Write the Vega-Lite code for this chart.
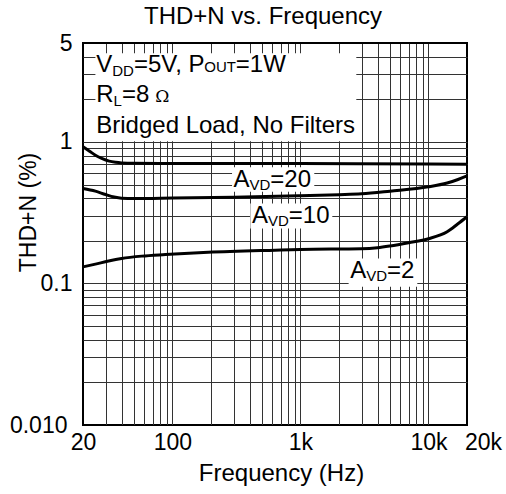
{
  "$schema": "https://vega.github.io/schema/vega-lite/v6.json",
  "width": 384,
  "height": 382,
  "autosize": {"type": "none"},
  "padding": {"left": 83, "top": 43, "right": 39, "bottom": 69},
  "background": "white",
  "config": {
    "font": "Liberation Sans",
    "view": {"stroke": "black", "strokeWidth": 2}
  },
  "title": {
    "text": "THD+N vs. Frequency",
    "font": "Liberation Sans",
    "fontSize": 24,
    "fontWeight": "normal",
    "color": "black",
    "anchor": "middle",
    "frame": "group",
    "dx": -12,
    "offset": 3
  },
  "encoding": {
    "x": {
      "field": "f",
      "type": "quantitative",
      "scale": {"type": "log", "domain": [20, 20000], "nice": false},
      "axis": {
        "title": "Frequency (Hz)",
        "titleFont": "Liberation Sans",
        "titleFontSize": 24,
        "titleFontWeight": "normal",
        "titleColor": "black",
        "titleX": 198,
        "titleY": 55,
        "titleBaseline": "alphabetic",
        "titleAlign": "center",
        "values": [20, 30, 40, 50, 60, 70, 80, 90, 100, 200, 300, 400, 500, 600, 700, 800, 900, 1000, 2000, 3000, 4000, 5000, 6000, 7000, 8000, 9000, 10000, 20000],
        "labelExpr": "datum.value == 20 ? '20' : datum.value == 100 ? '100' : datum.value == 1000 ? '1k' : datum.value == 10000 ? '10k' : datum.value == 20000 ? '20k' : ''",
        "labelFont": "Liberation Sans",
        "labelFontSize": 23,
        "labelColor": "black",
        "labelOverlap": false,
        "labelFlush": false,
        "labelPadding": 6,
        "labelOffset": {"condition": {"test": "datum.value == 20000", "value": 16}, "value": 0},
        "ticks": false,
        "tickSize": 0,
        "domain": false,
        "grid": true,
        "gridColor": {"condition": {"test": "datum.value == 20 || datum.value == 20000", "value": "black"}, "value": "#333333"},
        "gridWidth": 1,
        "gridOpacity": 1
      }
    },
    "y": {
      "field": "t",
      "type": "quantitative",
      "scale": {"type": "log", "domain": [0.01, 5], "nice": false},
      "axis": {
        "title": "THD+N (%)",
        "titleFont": "Liberation Sans",
        "titleFontSize": 23,
        "titleFontWeight": "normal",
        "titleColor": "black",
        "titleAngle": 270,
        "titleX": -48,
        "titleY": 169,
        "titleBaseline": "alphabetic",
        "titleAlign": "center",
        "values": [0.01, 0.02, 0.03, 0.04, 0.05, 0.06, 0.07, 0.08, 0.09, 0.1, 0.2, 0.3, 0.4, 0.5, 0.6, 0.7, 0.8, 0.9, 1, 2, 3, 4, 5],
        "labelExpr": "datum.value == 0.01 ? '0.010' : datum.value == 0.1 ? '0.1' : datum.value == 1 ? '1' : datum.value == 5 ? '5' : ''",
        "labelFont": "Liberation Sans",
        "labelFontSize": 23,
        "labelColor": "black",
        "labelOverlap": false,
        "labelFlush": false,
        "labelPadding": {"condition": {"test": "datum.value == 0.01", "value": 16}, "value": 11},
        "ticks": false,
        "tickSize": 0,
        "domain": false,
        "grid": true,
        "gridColor": {"condition": {"test": "datum.value == 0.01 || datum.value == 5", "value": "black"}, "value": "#333333"},
        "gridWidth": 1,
        "gridOpacity": 1
      }
    }
  },
  "layer": [
    {
      "data": {"values": [
        {"f": 25, "f2": 2730, "t": 1.011, "t2": 4.23},
        {"f": 292, "f2": 1282, "t": 0.444, "t2": 0.663},
        {"f": 405.6, "f2": 1773, "t": 0.245, "t2": 0.368},
        {"f": 2378, "f2": 8180, "t": 0.0948, "t2": 0.1504}
      ]},
      "mark": {"type": "rect", "fill": "white", "stroke": null},
      "encoding": {
        "x2": {"field": "f2"},
        "y2": {"field": "t2"}
      }
    },
    {
      "data": {"values": [
        {"series": "AVD=20", "f": 20, "t": 0.925},
        {"series": "AVD=20", "f": 22.5, "t": 0.86},
        {"series": "AVD=20", "f": 25, "t": 0.805},
        {"series": "AVD=20", "f": 28, "t": 0.765},
        {"series": "AVD=20", "f": 32, "t": 0.732},
        {"series": "AVD=20", "f": 36, "t": 0.718},
        {"series": "AVD=20", "f": 40, "t": 0.711},
        {"series": "AVD=20", "f": 50, "t": 0.706},
        {"series": "AVD=20", "f": 100, "t": 0.705},
        {"series": "AVD=20", "f": 1000, "t": 0.703},
        {"series": "AVD=20", "f": 10000, "t": 0.698},
        {"series": "AVD=20", "f": 20000, "t": 0.696},
        {"series": "AVD=10", "f": 20, "t": 0.469},
        {"series": "AVD=10", "f": 25, "t": 0.449},
        {"series": "AVD=10", "f": 30, "t": 0.425},
        {"series": "AVD=10", "f": 35, "t": 0.408},
        {"series": "AVD=10", "f": 40, "t": 0.4},
        {"series": "AVD=10", "f": 50, "t": 0.398},
        {"series": "AVD=10", "f": 100, "t": 0.401},
        {"series": "AVD=10", "f": 300, "t": 0.407},
        {"series": "AVD=10", "f": 1000, "t": 0.417},
        {"series": "AVD=10", "f": 2000, "t": 0.424},
        {"series": "AVD=10", "f": 3000, "t": 0.43},
        {"series": "AVD=10", "f": 5000, "t": 0.449},
        {"series": "AVD=10", "f": 10000, "t": 0.482},
        {"series": "AVD=10", "f": 14000, "t": 0.513},
        {"series": "AVD=10", "f": 17000, "t": 0.543},
        {"series": "AVD=10", "f": 20000, "t": 0.575},
        {"series": "AVD=2", "f": 20, "t": 0.131},
        {"series": "AVD=2", "f": 25, "t": 0.137},
        {"series": "AVD=2", "f": 31.7, "t": 0.144},
        {"series": "AVD=2", "f": 40, "t": 0.15},
        {"series": "AVD=2", "f": 57.6, "t": 0.156},
        {"series": "AVD=2", "f": 88, "t": 0.16},
        {"series": "AVD=2", "f": 190, "t": 0.166},
        {"series": "AVD=2", "f": 634, "t": 0.172},
        {"series": "AVD=2", "f": 1000, "t": 0.174},
        {"series": "AVD=2", "f": 3000, "t": 0.176},
        {"series": "AVD=2", "f": 4000, "t": 0.179},
        {"series": "AVD=2", "f": 5000, "t": 0.184},
        {"series": "AVD=2", "f": 7000, "t": 0.194},
        {"series": "AVD=2", "f": 10000, "t": 0.207},
        {"series": "AVD=2", "f": 14000, "t": 0.232},
        {"series": "AVD=2", "f": 17000, "t": 0.264},
        {"series": "AVD=2", "f": 20000, "t": 0.296}
      ]},
      "mark": {"type": "line", "color": "black", "strokeWidth": 3, "interpolate": "monotone", "strokeCap": "butt"},
      "encoding": {
        "detail": {"field": "series", "type": "nominal"},
        "order": {"field": "f", "type": "quantitative"}
      }
    },
    {
      "data": {"values": [
        {"f": 300, "t": 0.481, "s": "A"},
        {"f": 418, "t": 0.2655, "s": "A"},
        {"f": 2450, "t": 0.1086, "s": "A"}
      ]},
      "mark": {"type": "text", "align": "left", "baseline": "alphabetic", "font": "Liberation Sans", "fontSize": 24, "color": "black"},
      "encoding": {"text": {"field": "s"}}
    },
    {
      "data": {"values": [
        {"f": 300, "t": 0.481, "s": "VD"},
        {"f": 418, "t": 0.2655, "s": "VD"},
        {"f": 2450, "t": 0.1086, "s": "VD"}
      ]},
      "mark": {"type": "text", "align": "left", "baseline": "alphabetic", "font": "Liberation Sans", "fontSize": 15, "dx": 16, "dy": 3, "color": "black"},
      "encoding": {"text": {"field": "s"}}
    },
    {
      "data": {"values": [
        {"f": 300, "t": 0.481, "s": "=20"},
        {"f": 418, "t": 0.2655, "s": "=10"},
        {"f": 2450, "t": 0.1086, "s": "=2"}
      ]},
      "mark": {"type": "text", "align": "left", "baseline": "alphabetic", "font": "Liberation Sans", "fontSize": 24, "dx": 36.8, "color": "black"},
      "encoding": {"text": {"field": "s"}}
    },
    {
      "data": {"values": [
        {"f": 25.4, "t": 3.129, "s": "V"},
        {"f": 25.4, "t": 1.906, "s": "R"},
        {"f": 25.4, "t": 1.157, "s": "Bridged Load, No Filters"}
      ]},
      "mark": {"type": "text", "align": "left", "baseline": "alphabetic", "font": "Liberation Sans", "fontSize": 24, "color": "black"},
      "encoding": {"text": {"field": "s"}}
    },
    {
      "data": {"values": [{"f": 25.4, "t": 3.129, "s": "DD"}]},
      "mark": {"type": "text", "align": "left", "baseline": "alphabetic", "font": "Liberation Sans", "fontSize": 15, "dx": 16, "dy": 4, "color": "black"},
      "encoding": {"text": {"field": "s"}}
    },
    {
      "data": {"values": [{"f": 25.4, "t": 3.129, "s": "=5V, P"}]},
      "mark": {"type": "text", "align": "left", "baseline": "alphabetic", "font": "Liberation Sans", "fontSize": 24, "dx": 37.7, "color": "black"},
      "encoding": {"text": {"field": "s"}}
    },
    {
      "data": {"values": [{"f": 25.4, "t": 3.129, "s": "OUT"}]},
      "mark": {"type": "text", "align": "left", "baseline": "alphabetic", "font": "Liberation Sans", "fontSize": 15, "dx": 108, "color": "black"},
      "encoding": {"text": {"field": "s"}}
    },
    {
      "data": {"values": [{"f": 25.4, "t": 3.129, "s": "=1W"}]},
      "mark": {"type": "text", "align": "left", "baseline": "alphabetic", "font": "Liberation Sans", "fontSize": 24, "dx": 139.5, "color": "black"},
      "encoding": {"text": {"field": "s"}}
    },
    {
      "data": {"values": [{"f": 25.4, "t": 1.906, "s": "L"}]},
      "mark": {"type": "text", "align": "left", "baseline": "alphabetic", "font": "Liberation Sans", "fontSize": 15, "dx": 17.3, "dy": 4, "color": "black"},
      "encoding": {"text": {"field": "s"}}
    },
    {
      "data": {"values": [{"f": 25.4, "t": 1.906, "s": "=8"}]},
      "mark": {"type": "text", "align": "left", "baseline": "alphabetic", "font": "Liberation Sans", "fontSize": 24, "dx": 25.6, "color": "black"},
      "encoding": {"text": {"field": "s"}}
    },
    {
      "data": {"values": [{"f": 25.4, "t": 1.906, "s": "Ω"}]},
      "mark": {"type": "text", "align": "left", "baseline": "alphabetic", "font": "DejaVu Serif", "fontSize": 17, "dx": 59, "color": "black"},
      "encoding": {"text": {"field": "s"}}
    }
  ]
}
